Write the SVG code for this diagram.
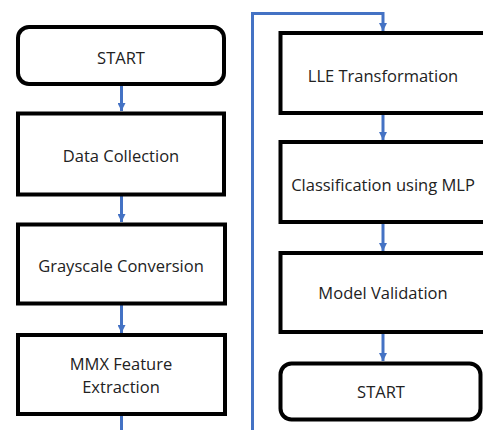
<svg xmlns="http://www.w3.org/2000/svg" width="483" height="430" viewBox="0 0 483 430">
  <style>
    .box { fill: #ffffff; stroke: #000000; stroke-width: 4; }
    .label { font-family: "Open Sans", "Liberation Sans", sans-serif; font-size: 16.5px; fill: #222222; text-anchor: middle; dominant-baseline: central; }
    .flow { fill: none; stroke: #4472C4; stroke-width: 3; }
  </style>
  <defs>
    <marker id="arrow" viewBox="0 0 8 8" refX="8" refY="4" markerWidth="8" markerHeight="8" markerUnits="userSpaceOnUse" orient="auto">
      <path d="M0,0 L8,4 L0,8 Z" fill="#4472C4"/>
    </marker>
  </defs>
  <rect width="483" height="430" fill="#ffffff"/>

  <!-- connectors -->
  <g id="connectors">
    <line class="flow" x1="121.5" y1="86" x2="121.5" y2="111" marker-end="url(#arrow)"/>
    <line class="flow" x1="121.5" y1="196" x2="121.5" y2="222" marker-end="url(#arrow)"/>
    <line class="flow" x1="121.5" y1="305" x2="121.5" y2="333" marker-end="url(#arrow)"/>
    <line class="flow" x1="121.5" y1="416" x2="121.5" y2="430"/>
    <polyline class="flow" points="252.5,430 252.5,13.5 383,13.5 383,31" marker-end="url(#arrow)"/>
    <line class="flow" x1="383" y1="115" x2="383" y2="140" marker-end="url(#arrow)"/>
    <line class="flow" x1="383" y1="224" x2="383" y2="251" marker-end="url(#arrow)"/>
    <line class="flow" x1="383" y1="334" x2="383" y2="361" marker-end="url(#arrow)"/>
  </g>

  <!-- left column -->
  <g id="start-top">
    <rect class="box" x="18" y="27" width="206" height="57" rx="11"/>
    <text class="label" x="121" y="57">START</text>
  </g>
  <g id="data-collection">
    <rect class="box" x="18" y="113.5" width="206" height="81"/>
    <text class="label" x="121" y="155">Data Collection</text>
  </g>
  <g id="grayscale-conversion">
    <rect class="box" x="18" y="224.5" width="207" height="79"/>
    <text class="label" x="121" y="265">Grayscale Conversion</text>
  </g>
  <g id="mmx-feature-extraction">
    <rect class="box" x="18" y="335" width="207" height="79"/>
    <text class="label" x="121" y="363">MMX Feature</text>
    <text class="label" x="121" y="386.5">Extraction</text>
  </g>

  <!-- right column -->
  <g id="lle-transformation">
    <rect class="box" x="280.5" y="33" width="210" height="80"/>
    <text class="label" x="383" y="75">LLE Transformation</text>
  </g>
  <g id="classification-mlp">
    <rect class="box" x="280.5" y="142" width="210" height="80"/>
    <text class="label" x="383" y="184">Classification using MLP</text>
  </g>
  <g id="model-validation">
    <rect class="box" x="280.5" y="253" width="210" height="79"/>
    <text class="label" x="383" y="292.5">Model Validation</text>
  </g>
  <g id="start-bottom">
    <rect class="box" x="280.5" y="363.5" width="200" height="56" rx="11"/>
    <text class="label" x="381" y="391">START</text>
  </g>
</svg>
